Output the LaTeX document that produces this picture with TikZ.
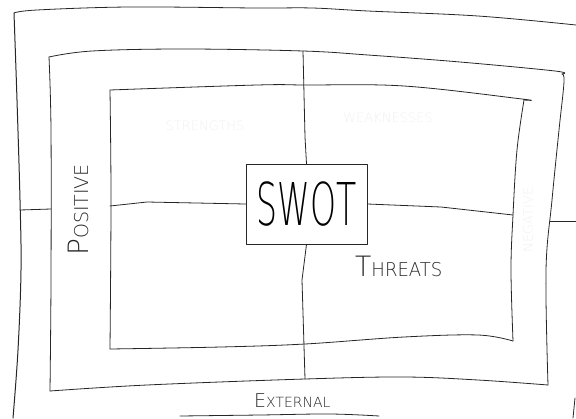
\documentclass[tikz,border=0pt]{standalone}
\usepackage{fontspec}
\IfFontExistsTF{DejaVu Sans ExtraLight}
  {\newfontfamily\penfont{DejaVu Sans ExtraLight}}
  {\newfontfamily\penfont{Latin Modern Sans}}
\begin{document}
\begin{tikzpicture}[x=1pt,y=-1pt]
\tikzset{
  pen/.style={line width=0.8pt, line cap=round, line join=round, draw=black!85},
  hand/.style={font=\penfont, inner sep=0pt, text=black!85},
  ghost/.style={font=\penfont\fontsize{13}{13}\selectfont, inner sep=0pt, text=black!6},
}
\useasboundingbox (0,0) rectangle (576,418);

% outer frame (runs off the page on the right and at the bottom)
\draw[pen] plot[smooth, tension=0.6] coordinates {(14,13) (37,10) (129,7) (257,8) (312,8) (368,11) (478,16) (576,25)};
\draw[pen, line width=1pt] plot[smooth, tension=0.6] coordinates {(14,13) (17,100) (20,200) (21,270) (18,350) (13,418)};
\draw[pen] (575,398) -- (573,418);
\draw[pen] plot[smooth, tension=0.6] coordinates {(180,416) (260,415) (330,414) (379,416)};

% middle frame
\draw[pen] plot[smooth, tension=0.6] coordinates {(49,57) (92,51) (184,49) (303,51) (368,55) (460,62) (555,71) (562,74)};
\draw[pen] plot[smooth, tension=0.6] coordinates {(562,74) (564,82) (559,130) (552,200) (546,270) (548,385)};
\draw[pen] plot[smooth, tension=0.6] coordinates {(50,391) (147,385) (305,379) (404,377) (478,380) (548,385)};
\draw[pen] plot[smooth, tension=0.6] coordinates {(49,57) (51,130) (51,280) (50,391)};

% inner frame
\draw[pen] plot[smooth, tension=0.6] coordinates {(110,90) (257,85) (305,85) (404,86) (522,99) (524,100)};
\draw[pen] plot[smooth, tension=0.6] coordinates {(524,100) (517,150) (513,215) (511,270) (513,341)};
\draw[pen] plot[smooth, tension=0.6] coordinates {(110,349) (221,347) (305,344) (404,337) (478,335) (513,341)};
\draw[pen] plot[smooth, tension=0.6] coordinates {(110,90) (111,200) (110,349)};

% central box
\node[pen, draw, minimum width=121pt, minimum height=80pt, inner sep=0pt] (swot) at (306.5,204)
  {\scalebox{0.56}[1]{\fontsize{59}{59}\selectfont\penfont SWOT}};

% end points of the dividing lines
\coordinate (midTop) at (303,51);
\coordinate (midBot) at (305,379);
\coordinate (innW) at (110,206);
\coordinate (innE) at (513,215);
\coordinate (outW) at (20,210);
\coordinate (midW) at (51,209);
\coordinate (midE) at (550,221);
\coordinate (pageE) at (576,221);

\draw[pen] (midTop) -- (305,137) -- (swot.north);
\draw[pen] (swot.south) -- (302,280) -- (midBot);
\draw[pen] (innW) -- (147,202) -- (swot.west);
\draw[pen] (swot.east) -- (441,207) -- (innE);
\draw[pen] (outW) -- (midW);
\draw[pen] (midE) -- (pageE);

% labels
\node[hand, anchor=base west] (threats) at (355,276)
  {\scalebox{0.95}[1]{{\fontsize{28}{28}\selectfont T}{\fontsize{19}{19}\selectfont HREATS}}};
\node[hand, anchor=base west, rotate=90] (positive) at (88,256)
  {{\fontsize{28}{28}\selectfont P}{\fontsize{19}{19}\selectfont OSITIVE}};
\node[hand, anchor=base west] (external) at (254,407)
  {{\fontsize{19}{19}\selectfont E}{\fontsize{14}{14}\selectfont XTERNAL}};

% faded labels
\node[ghost] (strengths) at (205,126) {STRENGTHS};
\node[ghost] (weaknesses) at (388,118) {WEAKNESSES};
\node[ghost, rotate=90] (negative) at (528,220) {NEGATIVE};
\end{tikzpicture}
\end{document}
